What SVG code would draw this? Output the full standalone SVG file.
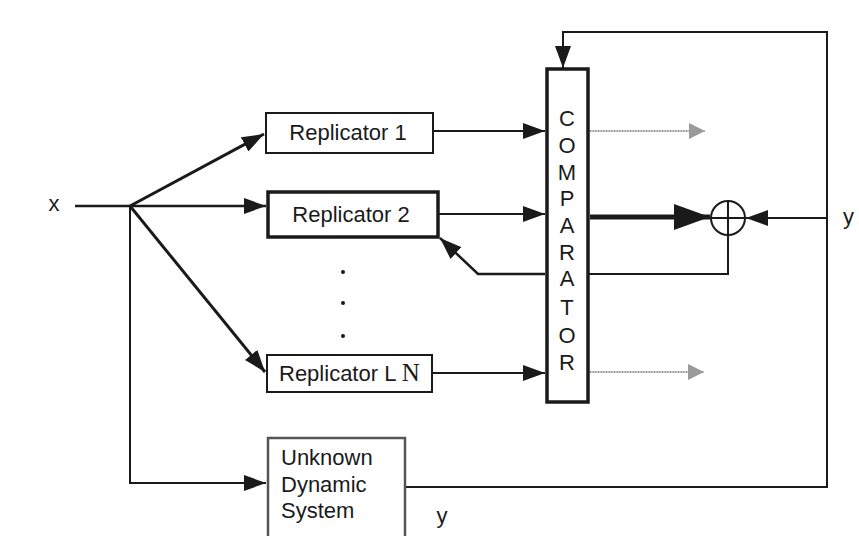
<svg xmlns="http://www.w3.org/2000/svg" width="859" height="536" viewBox="0 0 859 536">
  <style>
    .lbl { font-family: "Liberation Sans", Arial, sans-serif; font-size: 22px; fill: #1a1a1a; }
    .box { fill: #fff; stroke: #1a1a1a; }
    .wire { fill: none; stroke: #1a1a1a; stroke-width: 2; }
    .bold { stroke-width: 3; }
    .gray { fill: none; stroke: #8a8a8a; stroke-width: 2; stroke-dasharray: 1 0.6; }
  </style>
  <defs>
    <marker id="arrow" viewBox="0 0 22 16" refX="22" refY="8" markerWidth="22" markerHeight="16" markerUnits="userSpaceOnUse" orient="auto">
      <path d="M0,0 L22,8 L0,16 z" fill="#1a1a1a"/>
    </marker>
    <marker id="arrowBig" viewBox="0 0 36 26" refX="36" refY="13" markerWidth="36" markerHeight="26" markerUnits="userSpaceOnUse" orient="auto">
      <path d="M0,0 L36,13 L0,26 z" fill="#1a1a1a"/>
    </marker>
    <marker id="arrowGray" viewBox="0 0 16 16" refX="16" refY="8" markerWidth="16" markerHeight="16" markerUnits="userSpaceOnUse" orient="auto">
      <path d="M0,0 L16,8 L0,16 z" fill="#9a9a9a"/>
    </marker>
  </defs>
  <rect width="859" height="536" fill="#fff"/>

  <!-- connectors -->
  <g id="connectors">
    <path class="wire" style="stroke-width:2.5" d="M75,206 H130"/>
    <path class="wire bold" d="M130,206 L264,134" marker-end="url(#arrow)"/>
    <path class="wire" style="stroke-width:2.5" d="M130,206 H266" marker-end="url(#arrow)"/>
    <path class="wire bold" d="M130,206 L265,372" marker-end="url(#arrow)"/>
    <path class="wire" d="M130,206 V483 H266" marker-end="url(#arrow)"/>
    <path class="wire" d="M433,131 H545" marker-end="url(#arrow)"/>
    <path class="wire" d="M439,214 H545" marker-end="url(#arrow)"/>
    <path class="wire" d="M432,373 H545" marker-end="url(#arrow)"/>
    <path class="wire" d="M405,487 H827 V32 H563 V68" marker-end="url(#arrow)"/>
    <path class="wire" d="M827,218 H746" marker-end="url(#arrow)"/>
    <path class="wire" style="stroke-width:5" d="M590,217 H710" marker-end="url(#arrowBig)"/>
    <path class="wire" d="M728,235 V274 H589"/>
    <path class="wire" style="stroke-width:2.5" d="M545,274 H478 L440,238" marker-end="url(#arrow)"/>
    <path class="gray" d="M590,131 H705" marker-end="url(#arrowGray)"/>
    <path class="gray" d="M590,372 H704" marker-end="url(#arrowGray)"/>
  </g>

  <!-- summing junction -->
  <g id="sum">
    <circle cx="728" cy="218" r="17" fill="#fff" stroke="#1a1a1a" stroke-width="2"/>
    <path d="M711,218 H745 M728,201 V235" stroke="#1a1a1a" stroke-width="2"/>
  </g>

  <g id="replicator1">
    <rect class="box" x="266" y="113" width="167" height="40" stroke-width="2"/>
    <text class="lbl" x="348" y="140" text-anchor="middle">Replicator 1</text>
  </g>

  <g id="replicator2">
    <rect class="box" x="268" y="192" width="170" height="45" stroke-width="3.5"/>
    <text class="lbl" x="351" y="222" text-anchor="middle">Replicator 2</text>
  </g>

  <g id="ellipsis">
    <circle cx="343" cy="272" r="2" fill="#1a1a1a"/>
    <circle cx="343" cy="303" r="2" fill="#1a1a1a"/>
    <circle cx="343" cy="336" r="2" fill="#1a1a1a"/>
  </g>

  <g id="replicatorLN">
    <rect class="box" x="267" y="355" width="165" height="37" stroke-width="2"/>
    <text class="lbl" x="279" y="381">Replicator L <tspan style="font-family:'Liberation Serif','Times New Roman',serif;font-size:25px">N</tspan></text>
  </g>

  <g id="comparator">
    <rect class="box" x="547" y="69" width="41" height="333" stroke-width="3.5"/>
    <g class="lbl" text-anchor="middle">
      <text x="567" y="126">C</text>
      <text x="567" y="153">O</text>
      <text x="567" y="180">M</text>
      <text x="567" y="206">P</text>
      <text x="567" y="233">A</text>
      <text x="567" y="260">R</text>
      <text x="567" y="286">A</text>
      <text x="567" y="315">T</text>
      <text x="567" y="343">O</text>
      <text x="567" y="370">R</text>
    </g>
  </g>

  <g id="plant">
    <rect x="268" y="438" width="137" height="102" fill="#fff" stroke="#555" stroke-width="2.5"/>
    <text class="lbl" x="281" y="465">Unknown</text>
    <text class="lbl" x="281" y="492">Dynamic</text>
    <text class="lbl" x="281" y="518">System</text>
  </g>

  <g id="labels">
    <text class="lbl" x="54" y="211" text-anchor="middle">x</text>
    <text class="lbl" x="843" y="224">y</text>
    <text class="lbl" x="442" y="523" text-anchor="middle">y</text>
  </g>
</svg>
